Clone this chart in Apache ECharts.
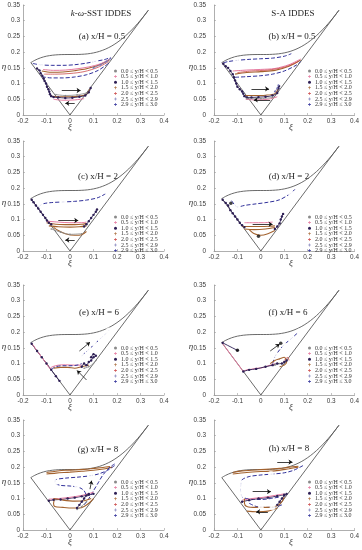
<!DOCTYPE html>
<html><head><meta charset="utf-8">
<script src="https://cdn.jsdelivr.net/npm/echarts/dist/echarts.min.js"></script>
<style>html,body{margin:0;padding:0;background:#fff}#c{width:362px;height:550px}</style>
</head><body><div id="c"></div>
<script>
// ---------- axis ticks ----------
const xiTicks = [-0.2, -0.1, 0, 0.1, 0.2, 0.3, 0.4];
const etaTicks = [0, 0.05, 0.1, 0.15, 0.2, 0.25, 0.3, 0.35];
const groupNames = ['0.0 ≤ y/H < 0.5','0.5 ≤ y/H < 1.0','1.0 ≤ y/H < 1.5','1.5 ≤ y/H < 2.0','2.0 ≤ y/H < 2.5','2.5 ≤ y/H < 2.9','2.9 ≤ y/H ≤ 3.0'];
const panelTitles = ['(a) x/H = 0.5','(b) x/H = 0.5','(c) x/H = 2','(d) x/H = 2','(e) x/H = 6','(f) x/H = 6','(g) x/H = 8','(h) x/H = 8'];
const colTitles = ['k-ω-SST IDDES','S-A IDDES'];

// ---------- Lumley triangle boundary ----------
const edgeLeft = [[-0.1667,0.1667],[0,0]];
const edgeRight = [[0,0],[0.3333,0.3333]];
const edgeTop = [[-0.1667,0.1667],[-0.15,0.174],[-0.125,0.182],[-0.1,0.1872],[-0.075,0.1902],[-0.05,0.1918],[-0.025,0.1924],[0,0.1925],[0.025,0.1925],[0.05,0.1931],[0.075,0.1946],[0.1,0.1976],[0.125,0.2023],[0.15,0.2093],[0.175,0.2185],[0.2,0.2303],[0.225,0.2446],[0.25,0.2613],[0.275,0.2804],[0.3,0.3017],[0.3167,0.3171],[0.3333,0.3333]];

// ---------- panel (a) ----------
const a_nav1 = [[-0.158,0.164],[-0.13,0.16],[-0.08,0.158],[-0.03,0.158],[0.02,0.16],[0.07,0.165],[0.11,0.171],[0.15,0.177],[0.172,0.183]];
const a_nav2 = [[-0.12,0.122],[-0.08,0.118],[-0.03,0.118],[0.02,0.121],[0.07,0.128],[0.12,0.142],[0.165,0.165]];
const a_brn1 = [[-0.12,0.14],[-0.08,0.136],[-0.03,0.137],[0.02,0.141],[0.07,0.147],[0.12,0.158],[0.168,0.175]];
const a_brn2 = [[-0.085,0.06],[-0.05,0.058],[0,0.058],[0.04,0.06],[0.07,0.066],[0.085,0.083]];
const a_pnk1 = [[-0.115,0.145],[-0.07,0.142],[-0.02,0.143],[0.03,0.147],[0.08,0.153],[0.13,0.163],[0.17,0.178]];
const a_pnk2 = [[-0.07,0.05],[-0.03,0.047],[0.02,0.048],[0.06,0.052]];
const a_red = [[-0.11,0.13],[-0.06,0.13],[0,0.132],[0.06,0.138],[0.12,0.152],[0.165,0.17]];
const a_pur = [[-0.14,0.148],[-0.13,0.142],[-0.125,0.133],[-0.118,0.125],[-0.112,0.116],[-0.108,0.108],[-0.102,0.1],[-0.098,0.09],[-0.092,0.082],[-0.088,0.074],[-0.085,0.066],[-0.08,0.06],[-0.07,0.057],[-0.05,0.056],[-0.02,0.054],[0.01,0.055],[0.04,0.058],[0.065,0.062],[0.08,0.072],[0.088,0.086]];
const a_gry = [[-0.06,0.065],[-0.02,0.062],[0.03,0.064],[0.07,0.07]];
const a_slt = [[0.1,0.15],[0.13,0.16],[0.155,0.17],[0.172,0.18]];
const a_circ = [[0.107,0.171],[-0.125,0.155]];
const a_dots = [];
const a_arr = [[[-0.035,0.078],[0.045,0.078]],[[0.02,0.037],[-0.02,0.037]]];

// ---------- panel (b) ----------
const b_nav1 = [[-0.16,0.166],[-0.14,0.17],[-0.1,0.174],[-0.05,0.177],[0,0.179],[0.05,0.181],[0.1,0.187],[0.13,0.195]];
const b_nav2 = [[-0.11,0.12],[-0.06,0.122],[0,0.125],[0.05,0.13],[0.1,0.14],[0.15,0.158],[0.17,0.17]];
const b_brn1 = [[-0.11,0.13],[-0.06,0.135],[0,0.138],[0.06,0.142],[0.12,0.155],[0.17,0.175]];
const b_pnk1 = [[-0.12,0.14],[-0.06,0.143],[0,0.145],[0.06,0.148],[0.12,0.16],[0.17,0.178]];
const b_red = [[-0.1,0.135],[-0.04,0.14],[0.03,0.143],[0.1,0.152],[0.16,0.17]];
const b_pur = [[-0.16,0.163],[-0.15,0.155],[-0.14,0.15],[-0.13,0.14],[-0.12,0.13],[-0.115,0.12],[-0.11,0.11],[-0.105,0.1],[-0.1,0.09],[-0.09,0.082],[-0.08,0.075],[-0.075,0.068],[-0.07,0.06],[-0.06,0.056],[-0.04,0.056],[-0.01,0.057],[0.02,0.058],[0.05,0.062],[0.07,0.07],[0.075,0.085],[0.078,0.092]];
const b_brn2 = [[-0.07,0.062],[-0.03,0.062],[0.02,0.063],[0.06,0.068],[0.075,0.085]];
const b_pnk2 = [[-0.065,0.05],[-0.02,0.048],[0.03,0.05],[0.07,0.058]];
const b_gry = [[-0.06,0.052],[0,0.052],[0.05,0.056]];
const b_slt = [[0.06,0.075],[0.07,0.085],[0.075,0.095]];
const b_circ = [[-0.105,0.174]];
const b_dots = [];
const b_arr = [[[-0.04,0.083],[0.035,0.083]],[[0.04,0.048],[-0.03,0.048]]];

// ---------- panel (c) ----------
const c_nav = [[-0.135,0.14],[-0.115,0.15],[-0.08,0.154],[-0.03,0.156],[0.02,0.158],[0.07,0.162],[0.12,0.17],[0.16,0.186]];
const c_circ = [[-0.125,0.147],[-0.03,0.156],[0.16,0.186]];
const c_pur1 = [[-0.163,0.163],[-0.155,0.155],[-0.145,0.145],[-0.135,0.135],[-0.125,0.125],[-0.115,0.115],[-0.105,0.105],[-0.098,0.097],[-0.09,0.09],[-0.08,0.085]];
const c_pur2 = [[0.06,0.078],[0.07,0.085],[0.08,0.095],[0.09,0.105],[0.1,0.115],[0.11,0.125],[0.115,0.132]];
const c_brn1 = [[-0.1,0.09],[-0.06,0.085],[-0.02,0.084],[0.02,0.084],[0.05,0.085],[0.07,0.088]];
const c_brn2 = [[-0.09,0.08],[-0.05,0.077],[0,0.076],[0.04,0.077],[0.07,0.08]];
const c_brn3 = [[-0.07,0.075],[-0.05,0.065],[-0.02,0.055],[0.02,0.05],[0.05,0.052],[0.07,0.062]];
const c_pnk = [[-0.1,0.095],[-0.05,0.092],[0,0.09],[0.05,0.09],[0.07,0.092]];
const c_gry = [[-0.08,0.07],[-0.04,0.06],[0,0.053],[0.05,0.055]];
const c_dots = [];
const c_arr = [[[-0.05,0.097],[0.035,0.097]],[[0.02,0.035],[-0.02,0.035]]];

// ---------- panel (d) ----------
const d_nav = [[-0.125,0.16],[-0.11,0.145],[-0.1,0.14],[-0.07,0.145],[-0.02,0.15],[0.03,0.155],[0.08,0.163],[0.128,0.184],[0.15,0.2]];
const d_circ = [[-0.1,0.14],[0.128,0.184]];
const d_pur1 = [[-0.163,0.163],[-0.15,0.153],[-0.14,0.145],[-0.13,0.13],[-0.12,0.12],[-0.11,0.11],[-0.1,0.1],[-0.09,0.09],[-0.08,0.082],[-0.07,0.076]];
const d_pur2 = [[0.06,0.07],[0.07,0.078],[0.08,0.088],[0.085,0.1],[0.09,0.11],[0.095,0.118]];
const d_brn1 = [[-0.08,0.078],[-0.04,0.078],[0,0.078],[0.04,0.079],[0.06,0.08]];
const d_brn2 = [[-0.07,0.07],[-0.03,0.068],[0.02,0.07],[0.06,0.075]];
const d_brn3 = [[-0.05,0.068],[-0.03,0.056],[0,0.05],[0.03,0.055],[0.06,0.065]];
const d_pnk = [[-0.07,0.09],[-0.03,0.09],[0.01,0.09],[0.05,0.092]];
const d_dots = [[-0.128,0.152],[-0.01,0.047]];
const d_arr = [[[-0.035,0.085],[0.05,0.085]]];

// ---------- panel (e) ----------
const e_nav1 = [[-0.163,0.163],[-0.14,0.14],[-0.12,0.12],[-0.1,0.1],[-0.08,0.08],[-0.06,0.06],[-0.045,0.045]];
const e_pnk = [[-0.163,0.165],[-0.13,0.13],[-0.1,0.1],[-0.085,0.085],[-0.075,0.09],[-0.05,0.095],[-0.02,0.096],[0.02,0.095],[0.05,0.095]];
const e_nav2 = [[-0.08,0.082],[-0.06,0.09],[-0.03,0.093],[0,0.093],[0.03,0.095],[0.05,0.1]];
const e_brn = [[-0.07,0.085],[-0.04,0.088],[-0.01,0.088],[0.02,0.085],[0.05,0.09],[0.08,0.095]];
const e_pur = [[0.05,0.09],[0.06,0.1],[0.07,0.095],[0.08,0.105],[0.09,0.11],[0.1,0.12],[0.11,0.125],[0.1,0.13],[0.09,0.12]];
const e_nav3 = [[0.05,0.125],[0.08,0.145],[0.105,0.162],[0.13,0.18],[0.15,0.193],[0.165,0.205]];
const e_circ = [[0.05,0.125],[0.08,0.145],[0.105,0.162],[0.13,0.18],[0.15,0.193],[0.165,0.205]];
const e_gry = [[0.06,0.085],[0.08,0.09],[0.1,0.1],[0.11,0.11]];
const e_dots = [];
const e_arr = [[[0.04,0.14],[0.085,0.168]],[[0.07,0.048],[0.03,0.078]]];

// ---------- panel (f) ----------
const f_pnk = [[-0.163,0.163],[-0.14,0.14],[-0.12,0.12],[-0.1,0.1],[-0.085,0.085],[-0.075,0.076],[-0.06,0.08],[-0.04,0.082],[-0.02,0.085],[0,0.086],[0.02,0.09],[0.04,0.095],[0.06,0.1]];
const f_pur = [[-0.075,0.075],[-0.05,0.08],[-0.02,0.083],[0.02,0.09],[0.05,0.095],[0.07,0.1],[0.09,0.1],[0.1,0.105],[0.11,0.11]];
const f_blk = [[-0.163,0.166],[-0.1,0.142]];
const f_nav = [[0.05,0.1],[0.064,0.127],[0.099,0.16],[0.128,0.178],[0.163,0.202]];
const f_circ = [[0.064,0.127],[0.099,0.16],[0.128,0.178],[0.163,0.202]];
const f_brn = [[0.04,0.1],[0.06,0.11],[0.08,0.115],[0.1,0.12],[0.11,0.105],[0.1,0.095],[0.08,0.09]];
const f_red = [[0.1,0.11],[0.115,0.12],[0.12,0.11]];
const f_gry = [[0.06,0.095],[0.08,0.1]];
const f_dots = [[-0.1,0.142],[0.085,0.165]];
const f_arr = [[[0.04,0.14],[0.08,0.162]]];

// ---------- panel (g) ----------
const g_brn1 = [[-0.1,0.183],[-0.06,0.187],[-0.02,0.19],[0.02,0.191],[0.06,0.193],[0.1,0.196],[0.14,0.199],[0.17,0.202]];
const g_brn2 = [[-0.1,0.178],[-0.06,0.181],[0,0.184],[0.05,0.187],[0.1,0.19],[0.15,0.195],[0.18,0.2]];
const g_nav1 = [[0.19,0.205],[0.16,0.19],[0.12,0.178],[0.08,0.172],[0.03,0.168],[-0.02,0.165],[-0.06,0.16],[-0.065,0.15],[-0.04,0.142],[0,0.14],[0.04,0.135],[0.06,0.125],[0.07,0.11]];
const g_nav2 = [[0.06,0.08],[0.08,0.1],[0.1,0.125],[0.12,0.15],[0.14,0.175],[0.17,0.2],[0.19,0.21]];
const g_circ = [[0.086,0.173],[-0.062,0.152],[0.03,0.14]];
const g_pur1 = [[-0.09,0.093],[-0.07,0.096],[-0.04,0.097],[-0.01,0.1],[0.02,0.103],[0.05,0.107],[0.08,0.112],[0.1,0.115]];
const g_pnk = [[-0.09,0.098],[-0.05,0.1],[0,0.104],[0.05,0.11],[0.1,0.12]];
const g_brn3 = [[-0.065,0.1],[-0.07,0.085],[-0.065,0.075],[-0.03,0.072],[0.01,0.07],[0.04,0.07],[0.06,0.075],[0.08,0.085],[0.1,0.1]];
const g_brn4 = [[-0.07,0.1],[-0.03,0.095],[0.02,0.092],[0.06,0.093],[0.09,0.1]];
const g_pur2 = [[0.03,0.07],[0.04,0.08],[0.05,0.09],[0.06,0.1],[0.07,0.11],[0.08,0.115]];
const g_gry = [[0.03,0.065],[0.05,0.075],[0.07,0.09]];
const g_dots = [];
const g_arr = [[[0.085,0.13],[0.092,0.157]]];

// ---------- panel (h) ----------
const h_brn1 = [[-0.12,0.183],[-0.08,0.188],[-0.04,0.19],[0,0.192],[0.04,0.194],[0.08,0.196],[0.12,0.2],[0.16,0.203]];
const h_brn2 = [[-0.12,0.178],[-0.06,0.183],[0,0.186],[0.06,0.188],[0.12,0.195],[0.16,0.2]];
const h_nav1 = [[0.18,0.205],[0.14,0.19],[0.1,0.182],[0.05,0.178],[0,0.175],[-0.05,0.17],[-0.08,0.16],[-0.085,0.145],[-0.087,0.13],[-0.085,0.115],[-0.08,0.105],[-0.06,0.1],[-0.03,0.098],[0,0.097],[0.04,0.1],[0.08,0.105]];
const h_nav2 = [[-0.05,0.085],[-0.02,0.075],[0.02,0.072],[0.06,0.073],[0.09,0.08]];
const h_circ = [[0.043,0.178],[-0.085,0.147],[-0.087,0.128],[-0.083,0.112],[0,0.073],[0.05,0.072]];
const h_pur1 = [[-0.08,0.09],[-0.05,0.095],[-0.01,0.1],[0.03,0.103],[0.07,0.108],[0.1,0.112]];
const h_pnk = [[-0.08,0.095],[-0.04,0.1],[0.01,0.104],[0.06,0.11],[0.1,0.115]];
const h_brn3 = [[-0.07,0.1],[-0.07,0.085],[-0.06,0.075],[-0.02,0.072],[0.03,0.072],[0.07,0.077],[0.09,0.09],[0.1,0.105]];
const h_brn4 = [[-0.06,0.06],[-0.02,0.058],[0.03,0.06],[0.07,0.07]];
const h_pur2 = [[0.07,0.08],[0.08,0.09],[0.09,0.1],[0.1,0.11],[0.11,0.115]];
const h_dots = [];
const h_arr = [[[-0.035,0.122],[0.043,0.122]],[[0.07,0.216],[0.135,0.216]],[[0.03,0.058],[-0.02,0.058]]];

// ---------- assemble (group index -> style) ----------
const panelTracks = [
  [[6,a_nav1],[6,a_nav2],[3,a_brn1],[3,a_brn2],[1,a_pnk1],[1,a_pnk2],[4,a_red],[2,a_pur],[0,a_gry],[5,a_slt]],
  [[6,b_nav1],[6,b_nav2],[3,b_brn1],[3,b_brn2],[1,b_pnk1],[1,b_pnk2],[4,b_red],[2,b_pur],[0,b_gry],[5,b_slt]],
  [[6,c_nav],[2,c_pur1],[2,c_pur2],[3,c_brn1],[3,c_brn2],[3,c_brn3],[1,c_pnk],[0,c_gry]],
  [[6,d_nav],[2,d_pur1],[2,d_pur2],[3,d_brn1],[3,d_brn2],[3,d_brn3],[1,d_pnk]],
  [[2,e_nav1],[1,e_pnk],[6,e_nav2],[3,e_brn],[2,e_pur],[6,e_nav3],[0,e_gry]],
  [[1,f_pnk],[2,f_pur],[2,f_blk],[6,f_nav],[3,f_brn],[4,f_red],[0,f_gry]],
  [[3,g_brn1],[3,g_brn2],[6,g_nav1],[6,g_nav2],[2,g_pur1],[1,g_pnk],[3,g_brn3],[3,g_brn4],[2,g_pur2],[0,g_gry]],
  [[3,h_brn1],[3,h_brn2],[6,h_nav1],[6,h_nav2],[2,h_pur1],[1,h_pnk],[3,h_brn3],[3,h_brn4],[2,h_pur2]]
];
const panelCircles = [a_circ,b_circ,c_circ,d_circ,e_circ,f_circ,g_circ,h_circ];
const panelDots = [a_dots,b_dots,c_dots,d_dots,e_dots,f_dots,g_dots,h_dots];
const panelArrows = [a_arr,b_arr,c_arr,d_arr,e_arr,f_arr,g_arr,h_arr];

// ---------- layout (pixels) ----------
const colLeft = [23, 214];
const rowTop = [5, 141, 285, 420];
const gridW = 141, gridH = 110;
const titlePos = [[102,37],[292,37],[98,177],[289,177],[99,313],[288,313],[98,450],[289,449]];
const legendTop = [68,68,214,214,345,345,479,479];
const legendLeft = [114,308];

const groupStyle = [
  {color:'#8a8a8a', width:0.8, type:'solid', sym:'circle', ss:1.6},
  {color:'#e6799f', width:1, type:'solid', sym:'none', ss:0},
  {color:'#2e1f55', width:0.9, type:'solid', sym:'circle', ss:2.4},
  {color:'#a3622e', width:1.1, type:'solid', sym:'none', ss:0},
  {color:'#cc4a4a', width:0.8, type:'solid', sym:'none', ss:0},
  {color:'#7474b4', width:0.8, type:'solid', sym:'circle', ss:2},
  {color:'#30309a', width:1, type:'dashed', sym:'none', ss:0}
];
const plus = 'path://M2,0H3V2H5V3H3V5H2V3H0V2H2Z';
const legendIcons = ['circle', plus, 'circle', plus, plus, plus, plus];

const fmt = v => { const r = +(+v).toFixed(2); return r === 0 ? '0' : String(r); };

const grids = [], xAxes = [], yAxes = [], series = [], legends = [], graphics = [];
for (let i = 0; i < 8; i++) {
  const col = i % 2, row = Math.floor(i / 2);
  const left = colLeft[col], top = rowTop[row];
  grids.push({left: left, top: top, width: gridW, height: gridH});
  xAxes.push({type:'value', gridIndex:i, min:xiTicks[0], max:xiTicks[xiTicks.length-1], interval:0.1,
    axisLine:{show:true, onZero:false, lineStyle:{color:'#9a9a9a', width:0.8}},
    axisTick:{show:true, inside:true, length:2, lineStyle:{color:'#9a9a9a', width:0.6}},
    splitLine:{show:false},
    axisLabel:{fontSize:6.4, color:'#3a3a3a', fontFamily:'Liberation Sans', margin:3, formatter:fmt}});
  yAxes.push({type:'value', gridIndex:i, min:etaTicks[0], max:etaTicks[etaTicks.length-1], interval:0.05,
    axisLine:{show:true, onZero:false, lineStyle:{color:'#9a9a9a', width:0.8}},
    axisTick:{show:true, inside:true, length:2, lineStyle:{color:'#9a9a9a', width:0.6}},
    splitLine:{show:false},
    axisLabel:{fontSize:6.4, color:'#3a3a3a', fontFamily:'Liberation Sans', margin: col === 0 ? 3 : 8, formatter:fmt}});
  // Lumley triangle
  [edgeLeft, edgeRight, edgeTop].forEach((e, k) => series.push({type:'line', xAxisIndex:i, yAxisIndex:i, data:e,
    showSymbol:false, symbol:'none', smooth: k === 2 ? 0.3 : false, silent:true, animation:false, z:1,
    lineStyle:{color:'#5a5a5a', width:0.9}}));
  // trajectories
  panelTracks[i].forEach(([g, pts]) => {
    const st = groupStyle[g];
    series.push({type:'line', name:groupNames[g], xAxisIndex:i, yAxisIndex:i, data:pts,
      smooth:0.3, silent:true, animation:false, z:3, color:st.color,
      symbol: st.sym, showSymbol: st.sym !== 'none', symbolSize: st.ss,
      itemStyle:{color:st.color}, lineStyle:{color:st.color, width:st.width, type:st.type}});
  });
  series.push({type:'scatter', name:groupNames[6], xAxisIndex:i, yAxisIndex:i, data:panelCircles[i],
    symbol:'emptyCircle', symbolSize:4, silent:true, animation:false, z:4, color:groupStyle[6].color,
    itemStyle:{color:'#ffffff', borderColor:groupStyle[6].color, borderWidth:0.8}});
  if (panelDots[i].length) series.push({type:'scatter', name:groupNames[2], xAxisIndex:i, yAxisIndex:i, data:panelDots[i],
    symbol:'circle', symbolSize:3.5, silent:true, animation:false, z:4, itemStyle:{color:'#111'}});
  series.push({type:'lines', coordinateSystem:'cartesian2d', xAxisIndex:i, yAxisIndex:i,
    data: panelArrows[i].map(a => ({coords:a})), symbol:['none','arrow'], symbolSize:4,
    lineStyle:{color:'#111', width:0.8, opacity:1}, silent:true, animation:false, z:5});
  legends.push({show:true, orient:'vertical', left:legendLeft[col], top:legendTop[i], padding:0,
    itemWidth:3, itemHeight:3, itemGap:-0.4, selectedMode:false,
    data: groupNames.map((n, k) => ({name:n, icon:legendIcons[k]})),
    textStyle:{fontSize:6, lineHeight:6, fontFamily:'Liberation Serif', color:'#333', padding:[0,0,0,-1]}});
  graphics.push({type:'text', x:titlePos[i][0], y:titlePos[i][1], silent:true,
    style:{text:panelTitles[i], font:'9px "Liberation Serif"', fill:'#222', align:'center', verticalAlign:'middle'}});
  graphics.push({type:'text', x:col === 0 ? 70 : 291, y:top + gridH + 13, silent:true,
    style:{text:'ξ', font:'italic 9px "Liberation Serif"', fill:'#333', align:'center', verticalAlign:'middle'}});
  graphics.push({type:'text', x:col === 0 ? 4 : 191, y:top + 62, silent:true,
    style:{text:'η', font:'italic 9px "Liberation Serif"', fill:'#333', align:'center', verticalAlign:'middle'}});
}
graphics.push({type:'text', x:101, y:14, silent:true,
  style:{text:'{i|k}-{i|ω}-SST IDDES', font:'9px "Liberation Serif"', fill:'#222', align:'center', verticalAlign:'middle',
    rich:{i:{fontStyle:'italic', fontSize:9, fontFamily:'Liberation Serif', fill:'#222'}}}});
graphics.push({type:'text', x:293, y:14, silent:true,
  style:{text:colTitles[1], font:'9px "Liberation Serif"', fill:'#222', align:'center', verticalAlign:'middle'}});

const chart = echarts.init(document.getElementById('c'), null, {renderer:'canvas'});
chart.setOption({animation:false, backgroundColor:'#fff', grid:grids, xAxis:xAxes, yAxis:yAxes, legend:legends, series:series, graphic:graphics});
</script></body></html>
